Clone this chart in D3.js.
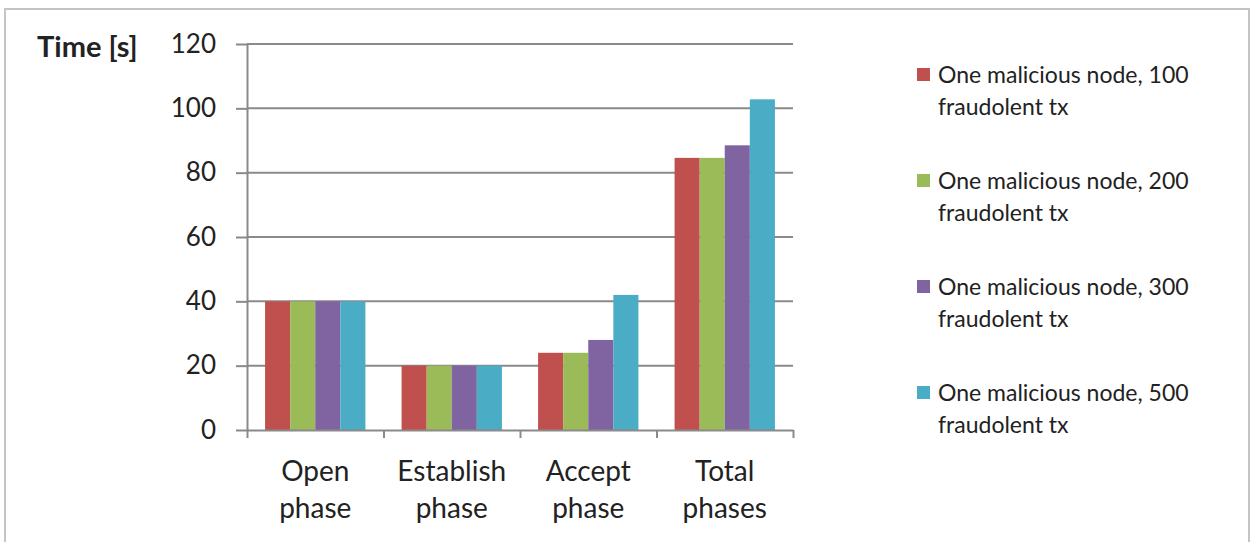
<!DOCTYPE html>
<html>
<head>
<meta charset="utf-8">
<script src="https://cdn.jsdelivr.net/npm/d3@7"></script>
<style>
  body { margin: 0; background: #fff; }
  svg { display: block; }
  text { font-family: Lato, "Open Sans", sans-serif; fill: #222; }
</style>
</head>
<body>
<svg id="chart" width="1251" height="542"></svg>
<script>
// Phase categories (two-line labels)
const categories = [["Open", "phase"], ["Establish", "phase"], ["Accept", "phase"], ["Total", "phases"]];
// Series labels (two-line legend entries)
const seriesLabels = [
  ["One malicious node, 100", "fraudolent tx"],
  ["One malicious node, 200", "fraudolent tx"],
  ["One malicious node, 300", "fraudolent tx"],
  ["One malicious node, 500", "fraudolent tx"]
];
const seriesColors = ["#C0504D", "#9BBB59", "#8064A2", "#4BACC6"];
// Time in seconds per phase
const tx100 = [40, 20, 24, 84.6];
const tx200 = [40, 20, 24, 84.6];
const tx300 = [40, 20, 28, 88.5];
const tx500 = [40, 20, 42, 102.8];
const yTicks = [0, 20, 40, 60, 80, 100, 120];
const yLabel = "Time [s]";

const series = [tx100, tx200, tx300, tx500];

const svg = d3.select("#chart");

// outer frame
svg.append("rect")
  .attr("x", 5).attr("y", 9).attr("width", 1244).attr("height", 560)
  .attr("fill", "none").attr("stroke", "#c4c4c4").attr("stroke-width", 2);

const plotLeft = 247, plotRight = 793, plotTop = 44, plotBottom = 430;

const x = d3.scaleBand()
  .domain(d3.range(categories.length))
  .range([plotLeft, plotRight])
  .paddingInner(0.265)
  .paddingOuter(0.1325);

const xs = d3.scaleBand()
  .domain(d3.range(series.length))
  .range([0, x.bandwidth()]);

const y = d3.scaleLinear().domain([0, 120]).range([plotBottom, plotTop]);

// horizontal gridlines
svg.append("g").selectAll("line")
  .data(yTicks.filter(d => d > 0))
  .join("line")
  .attr("x1", plotLeft).attr("x2", plotRight)
  .attr("y1", d => y(d)).attr("y2", d => y(d))
  .attr("stroke", "#8a8a8a").attr("stroke-width", 2);

// bars
svg.append("g").selectAll("g")
  .data(series)
  .join("g")
  .attr("fill", (d, i) => seriesColors[i])
  .each(function (vals, si) {
    d3.select(this).selectAll("rect")
      .data(vals)
      .join("rect")
      .attr("x", (v, ci) => x(ci) + xs(si))
      .attr("width", xs.bandwidth())
      .attr("y", v => y(v))
      .attr("height", v => y(0) - y(v));
  });

// y axis
const yAxis = svg.append("g")
  .attr("transform", `translate(${plotLeft},0)`)
  .call(d3.axisLeft(y).tickValues(yTicks).tickSize(11).tickPadding(20).tickSizeOuter(0));
yAxis.select(".domain").attr("stroke", "#8a8a8a").attr("stroke-width", 2);
yAxis.selectAll(".tick line").attr("stroke", "#8a8a8a").attr("stroke-width", 2);
yAxis.selectAll(".tick text")
  .attr("font-size", 26).attr("fill", "#222")
  .style("font-family", "Lato, 'Open Sans', sans-serif");

// x axis: ticks at category boundaries
const xb = d3.scaleLinear().domain([0, categories.length]).range([plotLeft, plotRight]);
const xAxis = svg.append("g")
  .attr("transform", `translate(0,${plotBottom})`)
  .call(d3.axisBottom(xb).tickValues(d3.range(categories.length + 1)).tickFormat("").tickSize(8).tickSizeOuter(0));
xAxis.select(".domain").attr("stroke", "#8a8a8a").attr("stroke-width", 2);
xAxis.selectAll(".tick line").attr("stroke", "#8a8a8a").attr("stroke-width", 2);

// category labels
const catG = svg.append("g").selectAll("text")
  .data(categories)
  .join("text")
  .attr("text-anchor", "middle")
  .attr("font-size", 28)
  .attr("x", (d, i) => x(i) + x.bandwidth() / 2)
  .attr("y", 481);
catG.selectAll("tspan")
  .data(d => d)
  .join("tspan")
  .attr("x", function () { return d3.select(this.parentNode).attr("x"); })
  .attr("dy", (d, i) => i === 0 ? 0 : 37)
  .text(d => d);

// y axis title
svg.append("text")
  .attr("x", 37).attr("y", 57)
  .attr("font-size", 29).attr("font-weight", "bold")
  .text(yLabel);

// legend
const legend = svg.append("g").selectAll("g")
  .data(seriesLabels)
  .join("g")
  .attr("transform", (d, i) => `translate(917,${68 + i * 106})`);
legend.append("rect")
  .attr("width", 13).attr("height", 13)
  .attr("fill", (d, i) => seriesColors[i]);
legend.append("text")
  .attr("x", 21).attr("y", 15)
  .attr("font-size", 23)
  .selectAll("tspan")
  .data(d => d)
  .join("tspan")
  .attr("x", 21)
  .attr("dy", (d, i) => i === 0 ? 0 : 32)
  .text(d => d);
</script>
</body>
</html>
